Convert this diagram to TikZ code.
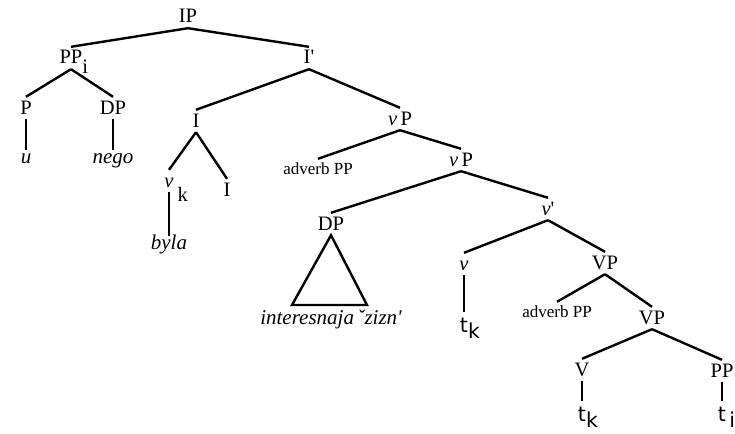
\documentclass[tikz,border=0pt]{standalone}
\usepackage{fontspec}
\setmainfont{Liberation Serif}[Ligatures=TeXOff]
\newfontfamily\tracefont{DejaVu Sans}
\newcommand{\lowsub}[2][10pt]{\rlap{\raisebox{-#1}{#2}}}
\begin{document}
\begin{tikzpicture}
[x=1pt,y=-1pt,
  catnode/.style={anchor=base,inner sep=4pt,text height=13pt,text depth=1pt,%
    font=\fontsize{20.5}{24}\selectfont},%
  smallnode/.style={catnode,text height=11pt,font=\fontsize{17}{20}\selectfont},%
  wordnode/.style={catnode,text height=9pt,font=\fontsize{21}{24}\selectfont\itshape},%
  tracenode/.style={catnode,text height=16pt,font=\tracefont\fontsize{20.5}{24}\selectfont},%
  linedecorate/.style={-,line width=2.4pt}]
\useasboundingbox (0,0) rectangle (735,433);
%% category nodes
\foreach \nodename/\x/\y/\txt in {ip/188/23/IP, ppi/71/64/{PP\lowsub{i}},
  ibar/309/64/I', p/26/114/P, dpl/113/114/DP, i/196/127/I,
  vk/169/187/{{\itshape ν}\lowsub[14pt]{\hspace{4pt}k}}, il/227/196/I,
  vpa/400/125/{{\itshape ν}\,P}, vpb/461/166/{{\itshape ν}\,P},
  dpm/331/230/DP, vbar/548/215/{{\itshape ν}'}, vlow/464/270/{\itshape ν},
  vpc/605/269/VP, vpd/652/324/VP, vv/582/376/V, ppr/722/377/PP}
{
  \node (\nodename) at (\x,\y) [catnode] {\txt};
}
\foreach \nodename/\x/\y in {advpa/318/174, advpb/557/317}
{
  \node (\nodename) at (\x,\y) [smallnode] {adverb PP};
}
%% words and traces
\foreach \nodename/\x/\y/\txt in {u/26/163/u, nego/113/163/nego,
  byla/169/249/byla, life/331/324/{interesnaja\,ˇzizn'}}
{
  \node (\nodename) at (\x,\y) [wordnode] {\txt};
}
\foreach \nodename/\x/\y/\txt in {tka/464/332/{t\lowsub[6pt]{k}},
  tkb/582/421/{t\lowsub[6pt]{k}}, ti/722/421/{t\lowsub[6pt]{\,i}}}
{
  \node (\nodename) at (\x,\y) [tracenode] {\txt};
}
%% branches
\path
\foreach \startnode/\endnode in {ip/ppi, ip/ibar, ppi/p, ppi/dpl, p/u,
  dpl/nego, ibar/i, ibar/vpa, i/vk, i/il, vk/byla, vpa/advpa, vpa/vpb,
  vpb/dpm, vpb/vbar, vbar/vlow, vbar/vpc, vlow/tka, vpc/advpb, vpc/vpd,
  vpd/vv, vpd/ppr, vv/tkb, ppr/ti} {
  (\startnode.south) edge[linedecorate] (\endnode.north)
};
%% triangle under DP
\coordinate (trileft) at (292,305);
\coordinate (triright) at (367,305);
\draw[linedecorate] (dpm.south) -- (trileft) -- (triright) -- cycle;
\end{tikzpicture}
\end{document}
